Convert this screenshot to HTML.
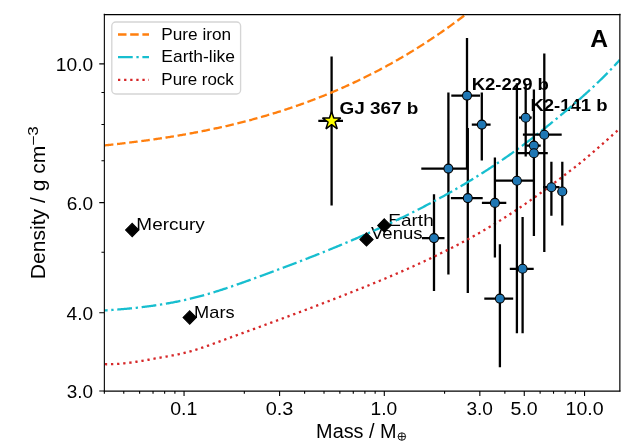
<!DOCTYPE html><html><head><meta charset="utf-8"><style>html,body{margin:0;padding:0;background:#fff}svg{display:block;will-change:transform}</style></head><body>
<svg width="628" height="445" viewBox="0 0 628 445" font-family="'Liberation Sans', sans-serif">
<rect width="628" height="445" fill="#fff"/>
<defs><clipPath id="ax"><rect x="104.36" y="14.37" width="515.45" height="376.59"/></clipPath></defs>
<g clip-path="url(#ax)">
<path d="M318.3,120.9H343.0M331.6,56.6V205.4M451.3,95.6H480.0M467.0,38.0V168.7M421.3,168.6H467.6M448.4,92.6V274.4M450.9,198.1H482.7M467.8,128.1V292.9M421.9,238.1H444.5M434.0,194.3V291.1" stroke="#000" stroke-width="2.3" fill="none"/>
<text x="339.44" y="114.30" font-size="16" font-weight="bold" textLength="78.79" lengthAdjust="spacingAndGlyphs">GJ 367 b</text>
<text x="471.70" y="90.20" font-size="16" font-weight="bold" textLength="77.21" lengthAdjust="spacingAndGlyphs">K2-229 b</text>
<text x="530.40" y="111.30" font-size="16" font-weight="bold" textLength="77.11" lengthAdjust="spacingAndGlyphs">K2-141 b</text>
</g>
<text x="136.39" y="230.00" font-size="17.0" textLength="68.33" lengthAdjust="spacingAndGlyphs">Mercury</text>
<text x="194.14" y="318.00" font-size="17.0" textLength="40.43" lengthAdjust="spacingAndGlyphs">Mars</text>
<text x="371.01" y="239.00" font-size="17.0" textLength="51.55" lengthAdjust="spacingAndGlyphs">Venus</text>
<text x="388.28" y="226.00" font-size="17.0" textLength="45.46" lengthAdjust="spacingAndGlyphs">Earth</text>
<g clip-path="url(#ax)">
<path d="M104.36,145.41 L105.36,145.30 L106.36,145.20 L107.36,145.09 L108.36,144.99 L109.36,144.88 L110.36,144.77 L111.36,144.66 L112.36,144.56 L113.36,144.45 L114.36,144.34 L115.36,144.23 L116.36,144.11 L117.36,144.00 L118.36,143.89 L119.36,143.78 L120.36,143.66 L121.36,143.55 L122.36,143.43 L123.36,143.31 L124.36,143.20 L125.36,143.08 L126.36,142.96 L127.36,142.84 L128.36,142.72 L129.36,142.60 L130.36,142.48 L131.36,142.35 L132.36,142.23 L133.36,142.11 L134.36,141.98 L135.36,141.85 L136.36,141.73 L137.36,141.60 L138.36,141.47 L139.36,141.34 L140.36,141.21 L141.36,141.08 L142.36,140.95 L143.36,140.81 L144.36,140.68 L145.36,140.54 L146.36,140.41 L147.36,140.27 L148.36,140.13 L149.36,140.00 L150.36,139.86 L151.36,139.72 L152.36,139.57 L153.36,139.43 L154.36,139.29 L155.36,139.14 L156.36,139.00 L157.36,138.85 L158.36,138.71 L159.36,138.56 L160.36,138.41 L161.36,138.26 L162.36,138.11 L163.36,137.95 L164.36,137.80 L165.36,137.65 L166.36,137.49 L167.36,137.33 L168.36,137.18 L169.36,137.02 L170.36,136.86 L171.36,136.70 L172.36,136.54 L173.36,136.37 L174.36,136.21 L175.36,136.04 L176.36,135.88 L177.36,135.71 L178.36,135.54 L179.36,135.37 L180.36,135.20 L181.36,135.03 L182.36,134.86 L183.36,134.68 L184.36,134.51 L185.36,134.33 L186.36,134.15 L187.36,133.97 L188.36,133.79 L189.36,133.61 L190.36,133.43 L191.36,133.25 L192.36,133.06 L193.36,132.88 L194.36,132.69 L195.36,132.50 L196.36,132.31 L197.36,132.12 L198.36,131.93 L199.36,131.73 L200.36,131.54 L201.36,131.34 L202.36,131.15 L203.36,130.95 L204.36,130.75 L205.36,130.55 L206.36,130.34 L207.36,130.14 L208.36,129.93 L209.36,129.73 L210.36,129.52 L211.36,129.31 L212.36,129.10 L213.36,128.89 L214.36,128.68 L215.36,128.46 L216.36,128.25 L217.36,128.03 L218.36,127.81 L219.36,127.59 L220.36,127.37 L221.36,127.15 L222.36,126.92 L223.36,126.70 L224.36,126.47 L225.36,126.24 L226.36,126.01 L227.36,125.78 L228.36,125.55 L229.36,125.31 L230.36,125.08 L231.36,124.84 L232.36,124.60 L233.36,124.36 L234.36,124.12 L235.36,123.87 L236.36,123.63 L237.36,123.38 L238.36,123.14 L239.36,122.89 L240.36,122.64 L241.36,122.38 L242.36,122.13 L243.36,121.87 L244.36,121.62 L245.36,121.36 L246.36,121.10 L247.36,120.84 L248.36,120.57 L249.36,120.31 L250.36,120.04 L251.36,119.77 L252.36,119.51 L253.36,119.23 L254.36,118.96 L255.36,118.69 L256.36,118.41 L257.36,118.13 L258.36,117.85 L259.36,117.57 L260.36,117.29 L261.36,117.01 L262.36,116.72 L263.36,116.43 L264.36,116.14 L265.36,115.85 L266.36,115.56 L267.36,115.26 L268.36,114.97 L269.36,114.67 L270.36,114.37 L271.36,114.07 L272.36,113.77 L273.36,113.46 L274.36,113.15 L275.36,112.85 L276.36,112.54 L277.36,112.22 L278.36,111.91 L279.36,111.59 L280.36,111.28 L281.36,110.96 L282.36,110.64 L283.36,110.32 L284.36,109.99 L285.36,109.66 L286.36,109.34 L287.36,109.01 L288.36,108.67 L289.36,108.34 L290.36,108.01 L291.36,107.67 L292.36,107.33 L293.36,106.99 L294.36,106.64 L295.36,106.30 L296.36,105.95 L297.36,105.60 L298.36,105.25 L299.36,104.90 L300.36,104.55 L301.36,104.19 L302.36,103.83 L303.36,103.47 L304.36,103.11 L305.36,102.75 L306.36,102.38 L307.36,102.01 L308.36,101.64 L309.36,101.27 L310.36,100.90 L311.36,100.52 L312.36,100.14 L313.36,99.76 L314.36,99.38 L315.36,99.00 L316.36,98.61 L317.36,98.22 L318.36,97.83 L319.36,97.44 L320.36,97.04 L321.36,96.65 L322.36,96.25 L323.36,95.85 L324.36,95.45 L325.36,95.04 L326.36,94.64 L327.36,94.23 L328.36,93.82 L329.36,93.40 L330.36,92.99 L331.36,92.57 L332.36,92.15 L333.36,91.73 L334.36,91.31 L335.36,90.88 L336.36,90.45 L337.36,90.02 L338.36,89.59 L339.36,89.16 L340.36,88.72 L341.36,88.28 L342.36,87.84 L343.36,87.40 L344.36,86.95 L345.36,86.50 L346.36,86.05 L347.36,85.60 L348.36,85.15 L349.36,84.69 L350.36,84.23 L351.36,83.77 L352.36,83.31 L353.36,82.84 L354.36,82.37 L355.36,81.90 L356.36,81.43 L357.36,80.96 L358.36,80.48 L359.36,80.00 L360.36,79.52 L361.36,79.03 L362.36,78.55 L363.36,78.06 L364.36,77.57 L365.36,77.07 L366.36,76.58 L367.36,76.08 L368.36,75.58 L369.36,75.08 L370.36,74.57 L371.36,74.06 L372.36,73.55 L373.36,73.04 L374.36,72.53 L375.36,72.01 L376.36,71.49 L377.36,70.97 L378.36,70.44 L379.36,69.92 L380.36,69.39 L381.36,68.85 L382.36,68.32 L383.36,67.78 L384.36,67.24 L385.36,66.70 L386.36,66.16 L387.36,65.61 L388.36,65.06 L389.36,64.51 L390.36,63.96 L391.36,63.40 L392.36,62.84 L393.36,62.28 L394.36,61.71 L395.36,61.15 L396.36,60.58 L397.36,60.01 L398.36,59.43 L399.36,58.85 L400.36,58.27 L401.36,57.69 L402.36,57.11 L403.36,56.52 L404.36,55.93 L405.36,55.34 L406.36,54.74 L407.36,54.14 L408.36,53.54 L409.36,52.94 L410.36,52.33 L411.36,51.72 L412.36,51.11 L413.36,50.50 L414.36,49.88 L415.36,49.26 L416.36,48.64 L417.36,48.02 L418.36,47.39 L419.36,46.76 L420.36,46.13 L421.36,45.49 L422.36,44.85 L423.36,44.21 L424.36,43.57 L425.36,42.92 L426.36,42.27 L427.36,41.62 L428.36,40.97 L429.36,40.31 L430.36,39.65 L431.36,38.99 L432.36,38.32 L433.36,37.65 L434.36,36.98 L435.36,36.31 L436.36,35.63 L437.36,34.95 L438.36,34.27 L439.36,33.58 L440.36,32.90 L441.36,32.20 L442.36,31.51 L443.36,30.81 L444.36,30.11 L445.36,29.41 L446.36,28.71 L447.36,28.00 L448.36,27.29 L449.36,26.57 L450.36,25.86 L451.36,25.14 L452.36,24.41 L453.36,23.69 L454.36,22.96 L455.36,22.23 L456.36,21.49 L457.36,20.75 L458.36,20.01 L459.36,19.27 L460.36,18.52 L461.36,17.77 L462.36,17.02 L463.36,16.27 L464.36,15.51 L465.36,14.75 L466.36,13.98 L467.36,13.22 L468.36,12.44 L469.36,11.67 L470.36,10.89 L471.36,10.12 L472.36,9.33 L473.36,8.55 L474.36,7.76 L475.00,7.25" stroke="#ff7f0e" stroke-width="2.3" fill="none" stroke-dasharray="8.529 3.688" stroke-dashoffset="11.67"/>
<path d="M104.36,310.47 L105.36,310.40 L106.36,310.34 L107.36,310.27 L108.36,310.21 L109.36,310.14 L110.36,310.07 L111.36,310.00 L112.36,309.93 L113.36,309.85 L114.36,309.78 L115.36,309.70 L116.36,309.63 L117.36,309.55 L118.36,309.47 L119.36,309.39 L120.36,309.30 L121.36,309.22 L122.36,309.13 L123.36,309.05 L124.36,308.96 L125.36,308.87 L126.36,308.78 L127.36,308.69 L128.36,308.59 L129.36,308.50 L130.36,308.40 L131.36,308.30 L132.36,308.20 L133.36,308.09 L134.36,307.99 L135.36,307.88 L136.36,307.78 L137.36,307.67 L138.36,307.56 L139.36,307.44 L140.36,307.33 L141.36,307.21 L142.36,307.09 L143.36,306.97 L144.36,306.85 L145.36,306.72 L146.36,306.60 L147.36,306.47 L148.36,306.34 L149.36,306.20 L150.36,306.07 L151.36,305.93 L152.36,305.79 L153.36,305.65 L154.36,305.51 L155.36,305.36 L156.36,305.21 L157.36,305.06 L158.36,304.91 L159.36,304.75 L160.36,304.60 L161.36,304.44 L162.36,304.28 L163.36,304.11 L164.36,303.95 L165.36,303.78 L166.36,303.60 L167.36,303.43 L168.36,303.25 L169.36,303.07 L170.36,302.89 L171.36,302.71 L172.36,302.52 L173.36,302.33 L174.36,302.14 L175.36,301.94 L176.36,301.75 L177.36,301.55 L178.36,301.34 L179.36,301.14 L180.36,300.93 L181.36,300.72 L182.36,300.50 L183.36,300.29 L184.36,300.07 L185.36,299.84 L186.36,299.62 L187.36,299.39 L188.36,299.16 L189.36,298.92 L190.36,298.69 L191.36,298.44 L192.36,298.20 L193.36,297.95 L194.36,297.70 L195.36,297.45 L196.36,297.19 L197.36,296.93 L198.36,296.67 L199.36,296.41 L200.36,296.14 L201.36,295.86 L202.36,295.59 L203.36,295.31 L204.36,295.03 L205.36,294.75 L206.36,294.46 L207.36,294.17 L208.36,293.88 L209.36,293.59 L210.36,293.29 L211.36,292.99 L212.36,292.69 L213.36,292.38 L214.36,292.07 L215.36,291.77 L216.36,291.45 L217.36,291.14 L218.36,290.82 L219.36,290.51 L220.36,290.19 L221.36,289.86 L222.36,289.54 L223.36,289.21 L224.36,288.88 L225.36,288.55 L226.36,288.22 L227.36,287.89 L228.36,287.55 L229.36,287.22 L230.36,286.88 L231.36,286.54 L232.36,286.19 L233.36,285.85 L234.36,285.51 L235.36,285.16 L236.36,284.81 L237.36,284.46 L238.36,284.11 L239.36,283.76 L240.36,283.41 L241.36,283.06 L242.36,282.70 L243.36,282.35 L244.36,281.99 L245.36,281.63 L246.36,281.27 L247.36,280.92 L248.36,280.56 L249.36,280.20 L250.36,279.83 L251.36,279.47 L252.36,279.11 L253.36,278.75 L254.36,278.38 L255.36,278.02 L256.36,277.66 L257.36,277.29 L258.36,276.93 L259.36,276.56 L260.36,276.20 L261.36,275.83 L262.36,275.46 L263.36,275.10 L264.36,274.73 L265.36,274.36 L266.36,273.99 L267.36,273.63 L268.36,273.26 L269.36,272.89 L270.36,272.52 L271.36,272.15 L272.36,271.78 L273.36,271.41 L274.36,271.03 L275.36,270.66 L276.36,270.29 L277.36,269.92 L278.36,269.54 L279.36,269.17 L280.36,268.79 L281.36,268.42 L282.36,268.04 L283.36,267.67 L284.36,267.29 L285.36,266.91 L286.36,266.54 L287.36,266.16 L288.36,265.78 L289.36,265.40 L290.36,265.02 L291.36,264.64 L292.36,264.26 L293.36,263.88 L294.36,263.49 L295.36,263.11 L296.36,262.73 L297.36,262.34 L298.36,261.96 L299.36,261.57 L300.36,261.19 L301.36,260.80 L302.36,260.41 L303.36,260.02 L304.36,259.64 L305.36,259.25 L306.36,258.86 L307.36,258.47 L308.36,258.08 L309.36,257.68 L310.36,257.29 L311.36,256.90 L312.36,256.50 L313.36,256.11 L314.36,255.71 L315.36,255.32 L316.36,254.92 L317.36,254.52 L318.36,254.12 L319.36,253.73 L320.36,253.33 L321.36,252.93 L322.36,252.52 L323.36,252.12 L324.36,251.72 L325.36,251.32 L326.36,250.91 L327.36,250.51 L328.36,250.10 L329.36,249.69 L330.36,249.29 L331.36,248.88 L332.36,248.47 L333.36,248.06 L334.36,247.65 L335.36,247.24 L336.36,246.82 L337.36,246.41 L338.36,246.00 L339.36,245.58 L340.36,245.16 L341.36,244.75 L342.36,244.33 L343.36,243.91 L344.36,243.49 L345.36,243.07 L346.36,242.65 L347.36,242.23 L348.36,241.81 L349.36,241.38 L350.36,240.96 L351.36,240.53 L352.36,240.10 L353.36,239.68 L354.36,239.25 L355.36,238.82 L356.36,238.39 L357.36,237.96 L358.36,237.52 L359.36,237.09 L360.36,236.66 L361.36,236.22 L362.36,235.78 L363.36,235.35 L364.36,234.91 L365.36,234.47 L366.36,234.03 L367.36,233.59 L368.36,233.14 L369.36,232.70 L370.36,232.26 L371.36,231.81 L372.36,231.36 L373.36,230.92 L374.36,230.47 L375.36,230.02 L376.36,229.57 L377.36,229.11 L378.36,228.66 L379.36,228.21 L380.36,227.75 L381.36,227.29 L382.36,226.84 L383.36,226.38 L384.36,225.92 L385.36,225.46 L386.36,224.99 L387.36,224.53 L388.36,224.06 L389.36,223.60 L390.36,223.13 L391.36,222.66 L392.36,222.19 L393.36,221.72 L394.36,221.24 L395.36,220.77 L396.36,220.29 L397.36,219.82 L398.36,219.34 L399.36,218.86 L400.36,218.38 L401.36,217.90 L402.36,217.41 L403.36,216.93 L404.36,216.44 L405.36,215.95 L406.36,215.46 L407.36,214.97 L408.36,214.48 L409.36,213.98 L410.36,213.49 L411.36,212.99 L412.36,212.49 L413.36,211.99 L414.36,211.49 L415.36,210.98 L416.36,210.48 L417.36,209.97 L418.36,209.46 L419.36,208.95 L420.36,208.44 L421.36,207.93 L422.36,207.41 L423.36,206.90 L424.36,206.38 L425.36,205.86 L426.36,205.34 L427.36,204.82 L428.36,204.29 L429.36,203.76 L430.36,203.24 L431.36,202.70 L432.36,202.17 L433.36,201.64 L434.36,201.10 L435.36,200.57 L436.36,200.03 L437.36,199.49 L438.36,198.94 L439.36,198.40 L440.36,197.85 L441.36,197.30 L442.36,196.75 L443.36,196.20 L444.36,195.65 L445.36,195.09 L446.36,194.53 L447.36,193.97 L448.36,193.41 L449.36,192.85 L450.36,192.28 L451.36,191.71 L452.36,191.14 L453.36,190.57 L454.36,190.00 L455.36,189.42 L456.36,188.85 L457.36,188.27 L458.36,187.68 L459.36,187.10 L460.36,186.51 L461.36,185.93 L462.36,185.33 L463.36,184.74 L464.36,184.15 L465.36,183.55 L466.36,182.95 L467.36,182.35 L468.36,181.75 L469.36,181.14 L470.36,180.53 L471.36,179.92 L472.36,179.31 L473.36,178.70 L474.36,178.08 L475.36,177.46 L476.36,176.84 L477.36,176.22 L478.36,175.59 L479.36,174.96 L480.36,174.33 L481.36,173.70 L482.36,173.06 L483.36,172.43 L484.36,171.79 L485.36,171.14 L486.36,170.50 L487.36,169.85 L488.36,169.20 L489.36,168.55 L490.36,167.90 L491.36,167.24 L492.36,166.58 L493.36,165.92 L494.36,165.25 L495.36,164.59 L496.36,163.92 L497.36,163.25 L498.36,162.57 L499.36,161.90 L500.36,161.22 L501.36,160.53 L502.36,159.85 L503.36,159.16 L504.36,158.47 L505.36,157.78 L506.36,157.08 L507.36,156.39 L508.36,155.69 L509.36,154.98 L510.36,154.28 L511.36,153.57 L512.36,152.86 L513.36,152.14 L514.36,151.43 L515.36,150.71 L516.36,149.99 L517.36,149.26 L518.36,148.53 L519.36,147.80 L520.36,147.07 L521.36,146.33 L522.36,145.60 L523.36,144.85 L524.36,144.11 L525.36,143.36 L526.36,142.61 L527.36,141.86 L528.36,141.10 L529.36,140.34 L530.36,139.58 L531.36,138.82 L532.36,138.05 L533.36,137.28 L534.36,136.51 L535.36,135.73 L536.36,134.95 L537.36,134.17 L538.36,133.39 L539.36,132.60 L540.36,131.81 L541.36,131.02 L542.36,130.23 L543.36,129.43 L544.36,128.63 L545.36,127.83 L546.36,127.03 L547.36,126.22 L548.36,125.42 L549.36,124.61 L550.36,123.79 L551.36,122.98 L552.36,122.16 L553.36,121.35 L554.36,120.53 L555.36,119.71 L556.36,118.88 L557.36,118.06 L558.36,117.23 L559.36,116.40 L560.36,115.57 L561.36,114.74 L562.36,113.90 L563.36,113.07 L564.36,112.23 L565.36,111.39 L566.36,110.55 L567.36,109.71 L568.36,108.87 L569.36,108.02 L570.36,107.17 L571.36,106.32 L572.36,105.47 L573.36,104.61 L574.36,103.75 L575.36,102.89 L576.36,102.02 L577.36,101.16 L578.36,100.28 L579.36,99.41 L580.36,98.53 L581.36,97.65 L582.36,96.76 L583.36,95.87 L584.36,94.98 L585.36,94.08 L586.36,93.18 L587.36,92.27 L588.36,91.36 L589.36,90.44 L590.36,89.52 L591.36,88.60 L592.36,87.67 L593.36,86.73 L594.36,85.79 L595.36,84.85 L596.36,83.90 L597.36,82.94 L598.36,81.98 L599.36,81.02 L600.36,80.04 L601.36,79.06 L602.36,78.08 L603.36,77.09 L604.36,76.09 L605.36,75.09 L606.36,74.08 L607.36,73.07 L608.36,72.05 L609.36,71.02 L610.36,69.98 L611.36,68.94 L612.36,67.89 L613.36,66.83 L614.36,65.77 L615.36,64.70 L616.36,63.62 L617.36,62.53 L618.36,61.44 L619.36,60.34 L619.81,59.84" stroke="#17becf" stroke-width="2.3" fill="none" stroke-dasharray="14.784 3.696 2.31 3.696" stroke-dashoffset="11.54"/>
<path d="M104.36,364.19 L105.36,364.22 L106.36,364.24 L107.36,364.25 L108.36,364.25 L109.36,364.24 L110.36,364.23 L111.36,364.21 L112.36,364.18 L113.36,364.15 L114.36,364.10 L115.36,364.06 L116.36,364.00 L117.36,363.94 L118.36,363.87 L119.36,363.80 L120.36,363.72 L121.36,363.63 L122.36,363.54 L123.36,363.44 L124.36,363.34 L125.36,363.23 L126.36,363.12 L127.36,363.00 L128.36,362.88 L129.36,362.75 L130.36,362.62 L131.36,362.49 L132.36,362.35 L133.36,362.21 L134.36,362.06 L135.36,361.91 L136.36,361.76 L137.36,361.61 L138.36,361.45 L139.36,361.29 L140.36,361.12 L141.36,360.96 L142.36,360.79 L143.36,360.62 L144.36,360.45 L145.36,360.27 L146.36,360.10 L147.36,359.92 L148.36,359.75 L149.36,359.57 L150.36,359.39 L151.36,359.21 L152.36,359.03 L153.36,358.85 L154.36,358.67 L155.36,358.49 L156.36,358.31 L157.36,358.13 L158.36,357.95 L159.36,357.77 L160.36,357.59 L161.36,357.41 L162.36,357.24 L163.36,357.06 L164.36,356.89 L165.36,356.71 L166.36,356.54 L167.36,356.36 L168.36,356.19 L169.36,356.01 L170.36,355.83 L171.36,355.64 L172.36,355.46 L173.36,355.27 L174.36,355.08 L175.36,354.89 L176.36,354.69 L177.36,354.49 L178.36,354.28 L179.36,354.07 L180.36,353.85 L181.36,353.63 L182.36,353.41 L183.36,353.17 L184.36,352.93 L185.36,352.69 L186.36,352.43 L187.36,352.17 L188.36,351.91 L189.36,351.63 L190.36,351.35 L191.36,351.07 L192.36,350.78 L193.36,350.48 L194.36,350.18 L195.36,349.88 L196.36,349.57 L197.36,349.25 L198.36,348.93 L199.36,348.61 L200.36,348.28 L201.36,347.95 L202.36,347.61 L203.36,347.28 L204.36,346.93 L205.36,346.59 L206.36,346.24 L207.36,345.89 L208.36,345.54 L209.36,345.19 L210.36,344.83 L211.36,344.47 L212.36,344.11 L213.36,343.75 L214.36,343.39 L215.36,343.02 L216.36,342.66 L217.36,342.29 L218.36,341.93 L219.36,341.56 L220.36,341.20 L221.36,340.83 L222.36,340.47 L223.36,340.10 L224.36,339.74 L225.36,339.37 L226.36,339.01 L227.36,338.64 L228.36,338.28 L229.36,337.91 L230.36,337.55 L231.36,337.18 L232.36,336.82 L233.36,336.45 L234.36,336.09 L235.36,335.73 L236.36,335.36 L237.36,335.00 L238.36,334.63 L239.36,334.27 L240.36,333.90 L241.36,333.54 L242.36,333.17 L243.36,332.81 L244.36,332.45 L245.36,332.08 L246.36,331.72 L247.36,331.35 L248.36,330.99 L249.36,330.62 L250.36,330.26 L251.36,329.89 L252.36,329.53 L253.36,329.16 L254.36,328.80 L255.36,328.43 L256.36,328.07 L257.36,327.70 L258.36,327.34 L259.36,326.97 L260.36,326.61 L261.36,326.24 L262.36,325.87 L263.36,325.51 L264.36,325.14 L265.36,324.78 L266.36,324.41 L267.36,324.04 L268.36,323.68 L269.36,323.31 L270.36,322.94 L271.36,322.58 L272.36,322.21 L273.36,321.84 L274.36,321.47 L275.36,321.11 L276.36,320.74 L277.36,320.37 L278.36,320.00 L279.36,319.63 L280.36,319.27 L281.36,318.90 L282.36,318.53 L283.36,318.16 L284.36,317.79 L285.36,317.42 L286.36,317.05 L287.36,316.68 L288.36,316.31 L289.36,315.94 L290.36,315.57 L291.36,315.20 L292.36,314.82 L293.36,314.45 L294.36,314.08 L295.36,313.71 L296.36,313.34 L297.36,312.96 L298.36,312.59 L299.36,312.22 L300.36,311.84 L301.36,311.47 L302.36,311.09 L303.36,310.72 L304.36,310.34 L305.36,309.97 L306.36,309.59 L307.36,309.22 L308.36,308.84 L309.36,308.46 L310.36,308.09 L311.36,307.71 L312.36,307.33 L313.36,306.95 L314.36,306.58 L315.36,306.20 L316.36,305.82 L317.36,305.44 L318.36,305.06 L319.36,304.68 L320.36,304.30 L321.36,303.92 L322.36,303.53 L323.36,303.15 L324.36,302.77 L325.36,302.39 L326.36,302.00 L327.36,301.62 L328.36,301.23 L329.36,300.85 L330.36,300.47 L331.36,300.08 L332.36,299.69 L333.36,299.31 L334.36,298.92 L335.36,298.53 L336.36,298.14 L337.36,297.76 L338.36,297.37 L339.36,296.98 L340.36,296.59 L341.36,296.20 L342.36,295.81 L343.36,295.42 L344.36,295.02 L345.36,294.63 L346.36,294.24 L347.36,293.84 L348.36,293.45 L349.36,293.06 L350.36,292.66 L351.36,292.27 L352.36,291.87 L353.36,291.47 L354.36,291.07 L355.36,290.68 L356.36,290.28 L357.36,289.88 L358.36,289.48 L359.36,289.08 L360.36,288.68 L361.36,288.28 L362.36,287.87 L363.36,287.47 L364.36,287.07 L365.36,286.66 L366.36,286.26 L367.36,285.85 L368.36,285.45 L369.36,285.04 L370.36,284.63 L371.36,284.23 L372.36,283.82 L373.36,283.41 L374.36,283.00 L375.36,282.59 L376.36,282.18 L377.36,281.76 L378.36,281.35 L379.36,280.94 L380.36,280.52 L381.36,280.11 L382.36,279.69 L383.36,279.27 L384.36,278.86 L385.36,278.44 L386.36,278.02 L387.36,277.60 L388.36,277.17 L389.36,276.75 L390.36,276.33 L391.36,275.90 L392.36,275.48 L393.36,275.05 L394.36,274.62 L395.36,274.20 L396.36,273.77 L397.36,273.34 L398.36,272.90 L399.36,272.47 L400.36,272.04 L401.36,271.60 L402.36,271.17 L403.36,270.73 L404.36,270.29 L405.36,269.85 L406.36,269.41 L407.36,268.97 L408.36,268.52 L409.36,268.08 L410.36,267.63 L411.36,267.18 L412.36,266.74 L413.36,266.29 L414.36,265.83 L415.36,265.38 L416.36,264.93 L417.36,264.47 L418.36,264.02 L419.36,263.56 L420.36,263.10 L421.36,262.64 L422.36,262.17 L423.36,261.71 L424.36,261.24 L425.36,260.78 L426.36,260.31 L427.36,259.84 L428.36,259.37 L429.36,258.89 L430.36,258.42 L431.36,257.94 L432.36,257.47 L433.36,256.99 L434.36,256.51 L435.36,256.02 L436.36,255.54 L437.36,255.05 L438.36,254.56 L439.36,254.07 L440.36,253.58 L441.36,253.09 L442.36,252.60 L443.36,252.10 L444.36,251.60 L445.36,251.10 L446.36,250.60 L447.36,250.09 L448.36,249.59 L449.36,249.08 L450.36,248.57 L451.36,248.06 L452.36,247.55 L453.36,247.03 L454.36,246.51 L455.36,246.00 L456.36,245.47 L457.36,244.95 L458.36,244.43 L459.36,243.90 L460.36,243.37 L461.36,242.84 L462.36,242.31 L463.36,241.77 L464.36,241.23 L465.36,240.69 L466.36,240.15 L467.36,239.61 L468.36,239.06 L469.36,238.51 L470.36,237.96 L471.36,237.41 L472.36,236.86 L473.36,236.30 L474.36,235.74 L475.36,235.18 L476.36,234.61 L477.36,234.05 L478.36,233.48 L479.36,232.91 L480.36,232.34 L481.36,231.76 L482.36,231.18 L483.36,230.60 L484.36,230.02 L485.36,229.43 L486.36,228.85 L487.36,228.26 L488.36,227.66 L489.36,227.07 L490.36,226.47 L491.36,225.87 L492.36,225.27 L493.36,224.66 L494.36,224.06 L495.36,223.45 L496.36,222.83 L497.36,222.22 L498.36,221.60 L499.36,220.98 L500.36,220.36 L501.36,219.73 L502.36,219.10 L503.36,218.47 L504.36,217.84 L505.36,217.20 L506.36,216.56 L507.36,215.92 L508.36,215.27 L509.36,214.63 L510.36,213.98 L511.36,213.32 L512.36,212.67 L513.36,212.01 L514.36,211.34 L515.36,210.68 L516.36,210.01 L517.36,209.34 L518.36,208.67 L519.36,207.99 L520.36,207.31 L521.36,206.63 L522.36,205.94 L523.36,205.26 L524.36,204.56 L525.36,203.87 L526.36,203.17 L527.36,202.47 L528.36,201.77 L529.36,201.07 L530.36,200.36 L531.36,199.65 L532.36,198.94 L533.36,198.23 L534.36,197.51 L535.36,196.79 L536.36,196.07 L537.36,195.35 L538.36,194.63 L539.36,193.90 L540.36,193.18 L541.36,192.45 L542.36,191.71 L543.36,190.98 L544.36,190.25 L545.36,189.51 L546.36,188.77 L547.36,188.03 L548.36,187.29 L549.36,186.55 L550.36,185.81 L551.36,185.06 L552.36,184.32 L553.36,183.57 L554.36,182.82 L555.36,182.07 L556.36,181.32 L557.36,180.56 L558.36,179.81 L559.36,179.06 L560.36,178.30 L561.36,177.54 L562.36,176.78 L563.36,176.02 L564.36,175.26 L565.36,174.50 L566.36,173.74 L567.36,172.98 L568.36,172.21 L569.36,171.45 L570.36,170.68 L571.36,169.91 L572.36,169.14 L573.36,168.37 L574.36,167.60 L575.36,166.82 L576.36,166.03 L577.36,165.24 L578.36,164.44 L579.36,163.64 L580.36,162.83 L581.36,162.02 L582.36,161.20 L583.36,160.38 L584.36,159.55 L585.36,158.72 L586.36,157.89 L587.36,157.05 L588.36,156.21 L589.36,155.36 L590.36,154.51 L591.36,153.66 L592.36,152.81 L593.36,151.95 L594.36,151.08 L595.36,150.22 L596.36,149.35 L597.36,148.48 L598.36,147.61 L599.36,146.73 L600.36,145.85 L601.36,144.97 L602.36,144.09 L603.36,143.21 L604.36,142.32 L605.36,141.43 L606.36,140.55 L607.36,139.66 L608.36,138.77 L609.36,137.87 L610.36,136.98 L611.36,136.09 L612.36,135.19 L613.36,134.30 L614.36,133.41 L615.36,132.51 L616.36,131.62 L617.36,130.72 L618.36,129.83 L619.36,128.93 L619.81,128.53" stroke="#d62728" stroke-width="2.3" fill="none" stroke-dasharray="2.31 3.812" stroke-dashoffset="5.63"/>
<path d="M471.8,124.6H490.6M481.8,92.6V160.5M519.0,117.7H531.7M525.7,83.9V156.5M522.9,134.7H561.7M544.3,53.6V252.1M526.9,145.6H540.7M533.9,110.0V190.0M517.4,153.2H547.8M533.9,89.4V236.0M493.8,180.7H534.5M516.9,83.3V333.2M543.0,187.2H559.5M551.4,161.8V215.8M557.7,191.5H567.0M562.3,161.8V225.5M481.9,202.9H506.3M494.9,157.5V257.5M509.8,268.8H533.7M522.6,217.1V333.2M484.3,298.6H513.2M499.9,244.2V367.3" stroke="#000" stroke-width="2.3" fill="none"/>
<circle cx="467.0" cy="95.6" r="4.5" fill="#1f77b4" stroke="#000" stroke-width="1.1"/>
<circle cx="448.4" cy="168.6" r="4.5" fill="#1f77b4" stroke="#000" stroke-width="1.1"/>
<circle cx="467.8" cy="198.1" r="4.5" fill="#1f77b4" stroke="#000" stroke-width="1.1"/>
<circle cx="434.0" cy="238.1" r="4.5" fill="#1f77b4" stroke="#000" stroke-width="1.1"/>
<circle cx="481.8" cy="124.6" r="4.5" fill="#1f77b4" stroke="#000" stroke-width="1.1"/>
<circle cx="525.7" cy="117.7" r="4.5" fill="#1f77b4" stroke="#000" stroke-width="1.1"/>
<circle cx="544.3" cy="134.7" r="4.5" fill="#1f77b4" stroke="#000" stroke-width="1.1"/>
<circle cx="533.9" cy="145.6" r="4.5" fill="#1f77b4" stroke="#000" stroke-width="1.1"/>
<circle cx="533.9" cy="153.2" r="4.5" fill="#1f77b4" stroke="#000" stroke-width="1.1"/>
<circle cx="516.9" cy="180.7" r="4.5" fill="#1f77b4" stroke="#000" stroke-width="1.1"/>
<circle cx="551.4" cy="187.2" r="4.5" fill="#1f77b4" stroke="#000" stroke-width="1.1"/>
<circle cx="562.3" cy="191.5" r="4.5" fill="#1f77b4" stroke="#000" stroke-width="1.1"/>
<circle cx="494.9" cy="202.9" r="4.5" fill="#1f77b4" stroke="#000" stroke-width="1.1"/>
<circle cx="522.6" cy="268.8" r="4.5" fill="#1f77b4" stroke="#000" stroke-width="1.1"/>
<circle cx="499.9" cy="298.6" r="4.5" fill="#1f77b4" stroke="#000" stroke-width="1.1"/>
<polygon points="331.60,111.40 329.44,118.03 322.47,118.03 328.11,122.13 325.96,128.77 331.60,124.67 337.24,128.77 335.09,122.13 340.73,118.03 333.76,118.03" fill="#ffff00" stroke="#000" stroke-width="1.5" stroke-linejoin="bevel"/>
<polygon points="132.2,223.4 138.79999999999998,230.0 132.2,236.6 125.6,230.0" fill="#000" stroke="#000" stroke-width="1.1"/>
<polygon points="189.7,310.9 196.29999999999998,317.5 189.7,324.1 183.1,317.5" fill="#000" stroke="#000" stroke-width="1.1"/>
<polygon points="366.5,232.8 373.1,239.4 366.5,246.0 359.9,239.4" fill="#000" stroke="#000" stroke-width="1.1"/>
<polygon points="384.3,218.8 390.90000000000003,225.4 384.3,232.0 377.7,225.4" fill="#000" stroke="#000" stroke-width="1.1"/>
</g>
<path d="M104.36,13.87V391.56" stroke="#000" stroke-width="1.1"/>
<path d="M619.86,13.87V391.56" stroke="#000" stroke-width="1.2"/>
<path d="M103.81,14.55H620.46" stroke="#000" stroke-width="1.2"/>
<path d="M103.81,391.2H620.46" stroke="#000" stroke-width="1.3"/>
<path d="M184.05,390.96v5.1M279.59,390.96v5.1M384.30,390.96v5.1M479.84,390.96v5.1M524.27,390.96v5.1M584.55,390.96v5.1M104.36,390.96v2.9M123.77,390.96v2.9M139.62,390.96v2.9M153.03,390.96v2.9M164.64,390.96v2.9M174.89,390.96v2.9M244.33,390.96v2.9M304.61,390.96v2.9M324.02,390.96v2.9M339.87,390.96v2.9M353.28,390.96v2.9M364.89,390.96v2.9M375.14,390.96v2.9M444.58,390.96v2.9M504.86,390.96v2.9M540.12,390.96v2.9M553.53,390.96v2.9M565.14,390.96v2.9M575.39,390.96v2.9M104.36,390.96h-5.1M104.36,312.81h-5.1M104.36,202.67h-5.1M104.36,63.90h-5.1M104.36,252.19h-2.9M104.36,160.79h-2.9M104.36,124.52h-2.9M104.36,92.52h-2.9" stroke="#000" stroke-width="1.1" fill="none"/>
<text x="170.22" y="415.00" font-size="17.9" textLength="27.16" lengthAdjust="spacingAndGlyphs">0.1</text>
<text x="265.70" y="415.00" font-size="17.9" textLength="27.70" lengthAdjust="spacingAndGlyphs">0.3</text>
<text x="370.56" y="415.00" font-size="17.9" textLength="26.71" lengthAdjust="spacingAndGlyphs">1.0</text>
<text x="466.44" y="415.00" font-size="17.9" textLength="26.53" lengthAdjust="spacingAndGlyphs">3.0</text>
<text x="510.52" y="415.00" font-size="17.9" textLength="27.17" lengthAdjust="spacingAndGlyphs">5.0</text>
<text x="565.53" y="415.00" font-size="17.9" textLength="38.08" lengthAdjust="spacingAndGlyphs">10.0</text>
<text x="55.86" y="71.30" font-size="17.9" textLength="37.33" lengthAdjust="spacingAndGlyphs">10.0</text>
<text x="66.65" y="210.07" font-size="17.9" textLength="26.52" lengthAdjust="spacingAndGlyphs">6.0</text>
<text x="66.62" y="320.21" font-size="17.9" textLength="26.54" lengthAdjust="spacingAndGlyphs">4.0</text>
<text x="66.84" y="398.36" font-size="17.9" textLength="26.32" lengthAdjust="spacingAndGlyphs">3.0</text>
<text x="316.11" y="437.70" font-size="19.5" textLength="80.49" lengthAdjust="spacingAndGlyphs">Mass / M</text>
<g transform="translate(401.85,436.55)"><circle r="3.75" fill="none" stroke="#000" stroke-width="0.9"/><path d="M-3.6,0H3.6M0,-3.6V3.6" stroke="#000" stroke-width="0.9"/></g>
<g transform="translate(44.8,277.6) rotate(-90)"><text x="-1.69" y="0.00" font-size="19.5" textLength="133.66" lengthAdjust="spacingAndGlyphs">Density / g cm</text><text x="131.85" y="-6.80" font-size="13.8" textLength="19.42" lengthAdjust="spacingAndGlyphs">−3</text></g>
<rect x="111.8" y="22.0" width="128.8" height="72.0" rx="4" ry="4" fill="#fff" fill-opacity="0.8" stroke="#d5d5d5" stroke-width="1.35"/>
<path d="M118,34.5H149" stroke="#ff7f0e" stroke-width="2.3" stroke-dasharray="8.51 3.68"/>
<path d="M118,57.2H149" stroke="#17becf" stroke-width="2.3" stroke-dasharray="14.72 3.68 2.3 3.68"/>
<path d="M118,79.8H149" stroke="#d62728" stroke-width="2.3" stroke-dasharray="2.3 3.8"/>
<text x="161.32" y="39.80" font-size="15.7" textLength="69.84" lengthAdjust="spacingAndGlyphs">Pure iron</text>
<text x="161.30" y="62.20" font-size="15.7" textLength="73.66" lengthAdjust="spacingAndGlyphs">Earth-like</text>
<text x="161.35" y="85.00" font-size="15.7" textLength="72.44" lengthAdjust="spacingAndGlyphs">Pure rock</text>
<text x="590.18" y="46.60" font-size="24.5" font-weight="bold" textLength="17.79" lengthAdjust="spacingAndGlyphs">A</text>
</svg></body></html>
